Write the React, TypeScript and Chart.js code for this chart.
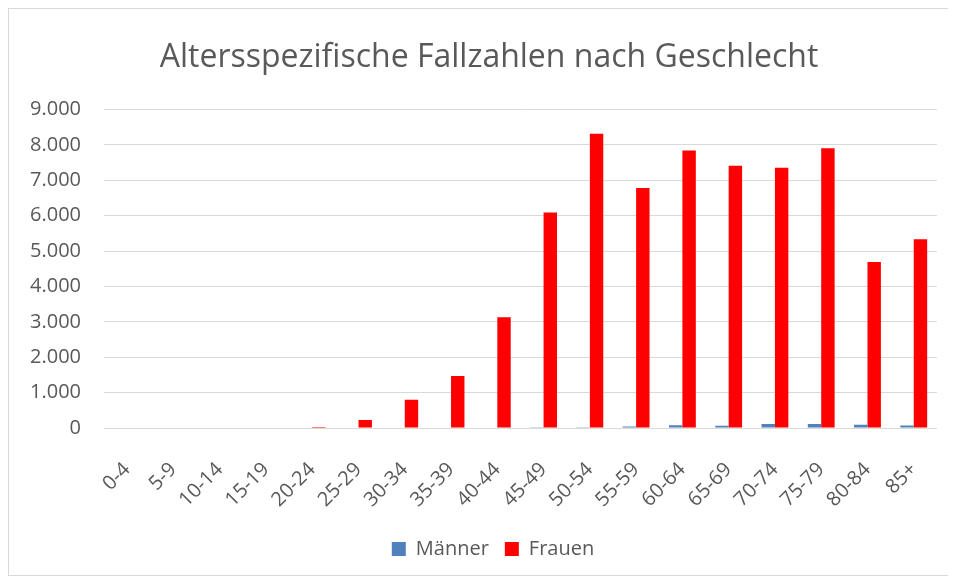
import React, { useEffect, useRef } from "react";
import { Chart, registerables } from "chart.js";

Chart.register(...registerables);

const categories = ["0-4","5-9","10-14","15-19","20-24","25-29","30-34","35-39","40-44","45-49","50-54","55-59","60-64","65-69","70-74","75-79","80-84","85+"];
const maenner = [0, 0, 0, 0, 0, 0, 0, 0, 0, 5, 20, 40, 80, 65, 110, 115, 90, 70];
const frauen = [0, 0, 0, 0, 30, 225, 800, 1470, 3130, 6090, 8310, 6780, 7840, 7410, 7350, 7900, 4690, 5330];
const yMax = 9000;
const yStep = 1000;

const FONT = "'Open Sans', sans-serif";
const TEXT = "#595959";

const shiftPlugin = {
  id: "shiftBoxes",
  afterLayout(chart: any) {
    if (chart.legend) { chart.legend.left += 19; chart.legend.right += 19; }
    if (chart.titleBlock) { chart.titleBlock.left += 15; chart.titleBlock.right += 15; }
  },
};

export default function App() {
  const ref = useRef<HTMLCanvasElement | null>(null);
  useEffect(() => {
    if (!ref.current) return;
    const chart = new Chart(ref.current, {
      type: "bar",
      data: {
        labels: categories,
        datasets: [
          { label: "Männer", data: maenner, backgroundColor: "#4F81BD", categoryPercentage: 0.58, barPercentage: 1.0 },
          { label: "Frauen", data: frauen, backgroundColor: "#FF0000", categoryPercentage: 0.58, barPercentage: 1.0 },
        ],
      },
      plugins: [shiftPlugin],
      options: {
        animation: false,
        responsive: false,
        layout: { padding: { left: 0, right: 10, top: 0, bottom: 6 } },
        plugins: {
          title: {
            display: true,
            text: "Altersspezifische Fallzahlen nach Geschlecht",
            color: TEXT,
            font: { family: FONT, size: 32, weight: "normal" },
            padding: { top: 30, bottom: 32 },
          },
          legend: {
            position: "bottom",
            labels: {
              color: TEXT,
              font: { family: FONT, size: 20 },
              boxWidth: 14,
              boxHeight: 14,
              padding: 16,
            },
          },
          tooltip: { enabled: false },
        },
        scales: {
          x: {
            grid: {
              display: true,
              drawOnChartArea: false,
              drawTicks: true,
              tickLength: 12,
              tickColor: "rgba(0,0,0,0)",
            },
            border: { display: true, color: "#d9d9d9", width: 1 },
            ticks: {
              color: TEXT,
              font: { family: FONT, size: 20 },
              maxRotation: 45,
              minRotation: 45,
              padding: 18,
              autoSkip: false,
            },
            afterFit: (s: any) => { s.height = 95; },
          },
          y: {
            min: 0,
            max: yMax,
            grid: { color: "#d9d9d9", drawTicks: false },
            border: { display: false },
            ticks: {
              stepSize: yStep,
              color: TEXT,
              font: { family: FONT, size: 20 },
              padding: 23,
              callback: (v: any) => Number(v).toLocaleString("de-DE"),
            },
            afterFit: (s: any) => { s.width = 95; },
          },
        },
      },
    });
    return () => chart.destroy();
  }, []);
  return (
    <div style={{ width: 942, height: 568, border: "1px solid #d9d9d9", boxSizing: "border-box" }}>
      <canvas ref={ref} width={940} height={566} />
    </div>
  );
}
